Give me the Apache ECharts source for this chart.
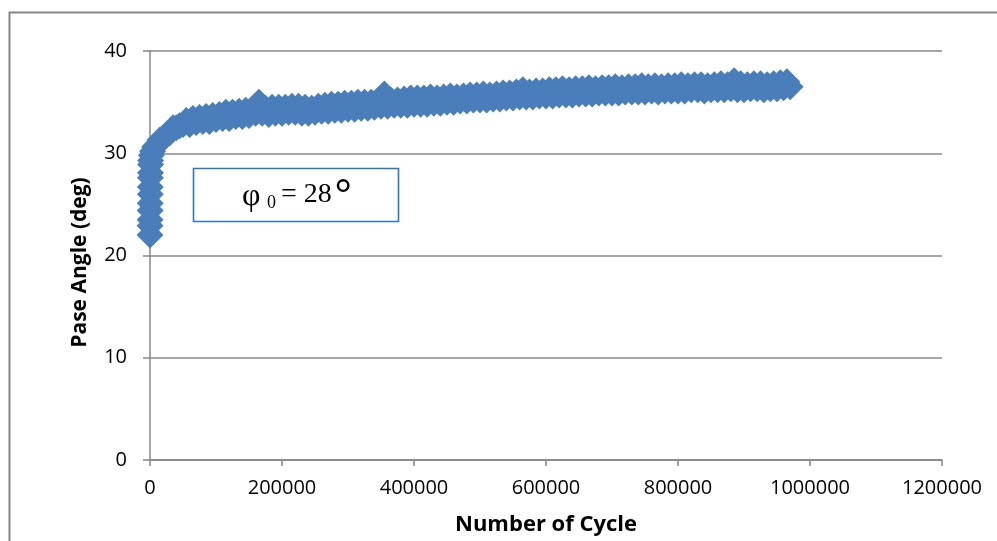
<!DOCTYPE html>
<html>
<head>
<meta charset="utf-8">
<script src="https://cdn.jsdelivr.net/npm/echarts@6/dist/echarts.min.js"></script>
<style>
  html, body { margin: 0; padding: 0; background: #fff; }
  #chart { width: 997px; height: 541px; }
</style>
</head>
<body>
<div id="chart"></div>
<script>
// Early readings taken within the first few thousand cycles
const startCycles = [0, 100, 200, 300, 400, 500, 600, 700, 800, 900, 1000, 2000, 4000, 7000];
const startAngle  = [22.0, 22.9, 23.5, 24.4, 25.1, 26.0, 26.7, 27.6, 28.1, 28.9, 29.3, 29.8, 30.2, 30.6];

// Readings every 5000 cycles from 10000 to 970000
const cycles = [
  10000, 15000, 20000, 25000, 30000, 35000, 40000, 45000, 50000, 55000,
  60000, 65000, 70000, 75000, 80000, 85000, 90000, 95000, 100000, 105000,
  110000, 115000, 120000, 125000, 130000, 135000, 140000, 145000, 150000, 155000,
  160000, 165000, 170000, 175000, 180000, 185000, 190000, 195000, 200000, 205000,
  210000, 215000, 220000, 225000, 230000, 235000, 240000, 245000, 250000, 255000,
  260000, 265000, 270000, 275000, 280000, 285000, 290000, 295000, 300000, 305000,
  310000, 315000, 320000, 325000, 330000, 335000, 340000, 345000, 350000, 355000,
  360000, 365000, 370000, 375000, 380000, 385000, 390000, 395000, 400000, 405000,
  410000, 415000, 420000, 425000, 430000, 435000, 440000, 445000, 450000, 455000,
  460000, 465000, 470000, 475000, 480000, 485000, 490000, 495000, 500000, 505000,
  510000, 515000, 520000, 525000, 530000, 535000, 540000, 545000, 550000, 555000,
  560000, 565000, 570000, 575000, 580000, 585000, 590000, 595000, 600000, 605000,
  610000, 615000, 620000, 625000, 630000, 635000, 640000, 645000, 650000, 655000,
  660000, 665000, 670000, 675000, 680000, 685000, 690000, 695000, 700000, 705000,
  710000, 715000, 720000, 725000, 730000, 735000, 740000, 745000, 750000, 755000,
  760000, 765000, 770000, 775000, 780000, 785000, 790000, 795000, 800000, 805000,
  810000, 815000, 820000, 825000, 830000, 835000, 840000, 845000, 850000, 855000,
  860000, 865000, 870000, 875000, 880000, 885000, 890000, 895000, 900000, 905000,
  910000, 915000, 920000, 925000, 930000, 935000, 940000, 945000, 950000, 955000,
  960000, 965000, 970000
];
const phaseAngle = [
  30.8, 31.3, 31.5, 31.8, 32.0, 32.5, 32.5, 32.7, 32.8, 33.2,
  32.8, 33.4, 33.0, 33.5, 33.1, 33.6, 33.1, 33.7, 33.3, 33.8,
  33.4, 34.0, 33.4, 34.0, 33.6, 34.1, 33.6, 34.2, 33.7, 34.3,
  33.9, 35.0, 33.9, 34.4, 33.8, 34.5, 33.9, 34.5, 33.9, 34.5,
  34.0, 34.6, 34.0, 34.6, 33.9, 34.5, 33.9, 34.4, 34.0, 34.6,
  34.1, 34.7, 34.1, 34.8, 34.2, 34.8, 34.2, 34.9, 34.3, 34.9,
  34.3, 35.0, 34.4, 35.0, 34.4, 35.0, 34.5, 35.1, 34.6, 35.8,
  34.6, 35.2, 34.7, 35.2, 34.7, 35.3, 34.7, 35.4, 34.8, 35.4,
  34.8, 35.4, 34.8, 35.5, 34.9, 35.4, 34.9, 35.5, 35.0, 35.6,
  35.0, 35.5, 35.1, 35.6, 35.1, 35.7, 35.2, 35.7, 35.2, 35.8,
  35.2, 35.7, 35.3, 35.8, 35.3, 35.9, 35.4, 35.9, 35.4, 36.0,
  35.5, 36.2, 35.5, 36.0, 35.5, 36.1, 35.6, 36.1, 35.6, 36.2,
  35.6, 36.2, 35.7, 36.3, 35.7, 36.2, 35.7, 36.3, 35.8, 36.3,
  35.8, 36.4, 35.8, 36.3, 35.9, 36.4, 35.9, 36.4, 35.9, 36.5,
  35.9, 36.4, 36.0, 36.5, 36.0, 36.5, 36.0, 36.6, 36.0, 36.5,
  36.1, 36.6, 36.0, 36.5, 36.1, 36.6, 36.1, 36.6, 36.1, 36.7,
  36.1, 36.6, 36.2, 36.7, 36.2, 36.7, 36.1, 36.6, 36.2, 36.7,
  36.2, 36.8, 36.2, 36.7, 36.3, 37.1, 36.2, 36.8, 36.2, 36.7,
  36.3, 36.8, 36.3, 36.8, 36.2, 36.7, 36.3, 36.8, 36.3, 36.9,
  36.4, 37.0, 36.5
];
const xTicks = { min: 0, max: 1200000, step: 200000 };
const yTicks = { min: 0, max: 40, step: 10 };

const points = startCycles.map((c, i) => [c, startAngle[i]])
  .concat(cycles.map((c, i) => [c, phaseAngle[i]]));

const axisGray = '#878787';
const labelFont = '"Open Sans", "Liberation Sans", sans-serif';
const serif = '"Liberation Serif", "DejaVu Serif", serif';

const chart = echarts.init(document.getElementById('chart'), null, { renderer: 'canvas' });
chart.setOption({
  animation: false,
  backgroundColor: '#ffffff',
  grid: { left: 150, top: 51, width: 792, height: 409, containLabel: false },
  xAxis: {
    type: 'value',
    min: xTicks.min, max: xTicks.max, interval: xTicks.step,
    name: 'Number of Cycle',
    nameLocation: 'middle',
    nameGap: 54,
    nameTextStyle: { fontFamily: labelFont, fontWeight: 'bold', fontSize: 22, color: '#000' },
    axisLine: { show: true, onZero: false, lineStyle: { color: axisGray, width: 1.5 } },
    axisTick: { show: true, length: 6, lineStyle: { color: axisGray, width: 1.5 } },
    axisLabel: { margin: 18, fontFamily: labelFont, fontSize: 20, color: '#000',
                 formatter: v => String(v) },
    splitLine: { show: false }
  },
  yAxis: {
    type: 'value',
    min: yTicks.min, max: yTicks.max, interval: yTicks.step,
    name: 'Pase Angle (deg)',
    nameLocation: 'middle',
    nameGap: 59,
    nameRotate: 90,
    nameTextStyle: { fontFamily: labelFont, fontWeight: 'bold', fontSize: 21, color: '#000',
                     padding: [0, 14, 0, 0] },
    axisLine: { show: true, lineStyle: { color: axisGray, width: 1.5 } },
    axisTick: { show: true, length: 7, lineStyle: { color: axisGray, width: 1.5 } },
    axisLabel: { margin: 23, fontFamily: labelFont, fontSize: 20, color: '#000',
                 formatter: v => String(v) },
    splitLine: { show: true, lineStyle: { color: axisGray, width: 1.5 } }
  },
  series: [{
    type: 'scatter',
    data: points,
    symbol: 'diamond',
    symbolSize: 27,
    itemStyle: { color: '#4a7ebb', opacity: 1 },
    silent: true
  }],
  graphic: [
    // outer chart-area frame
    { type: 'rect', left: 7, top: 10, z: 100,
      shape: { x: 0, y: 0, width: 1100, height: 700 },
      style: { fill: 'none', stroke: axisGray, lineWidth: 2 } },
    // annotation box
    { type: 'rect', z: 100,
      shape: { x: 193.5, y: 168.5, width: 205, height: 53 },
      style: { fill: '#ffffff', stroke: '#2b78c2', lineWidth: 1.6 } },
    { type: 'text', z: 101, x: 242, y: 197,
      style: { text: 'φ', font: '32px ' + serif, fill: '#000', verticalAlign: 'middle', align: 'left' } },
    { type: 'text', z: 101, x: 267, y: 203,
      style: { text: '0', font: '18px ' + serif, fill: '#000', verticalAlign: 'middle', align: 'left' } },
    { type: 'text', z: 101, x: 281, y: 195,
      style: { text: '= 28', font: '28px ' + serif, fill: '#000', verticalAlign: 'middle', align: 'left' } },
    { type: 'text', z: 101, x: 334, y: 199,
      style: { text: '°', font: '46px "Liberation Sans", sans-serif', fill: '#000', verticalAlign: 'middle', align: 'left' } }
  ]
});
</script>
</body>
</html>
